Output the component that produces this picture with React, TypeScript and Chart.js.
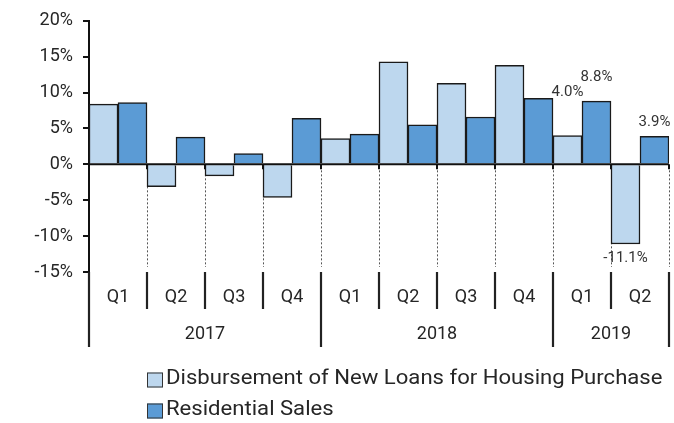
import React, { useEffect, useRef } from "react";
import { Chart, registerables } from "chart.js";

Chart.register(...registerables);

const quarterLabels = ["Q1", "Q2", "Q3", "Q4", "Q1", "Q2", "Q3", "Q4", "Q1", "Q2"];
const yearLabels = ["2017", "2018", "2019"];
const yearSpans = [4, 4, 2];
const loanGrowth = [8.4, -3.1, -1.6, -4.6, 3.6, 14.3, 11.3, 13.8, 4.0, -11.1];
const salesGrowth = [8.6, 3.8, 1.5, 6.4, 4.2, 5.5, 6.6, 9.2, 8.8, 3.9];
const seriesNames = ["Disbursement of New Loans for Housing Purchase", "Residential Sales"];
const labelledIndices = [8, 9];
const yMin = -15;
const yMax = 20;
const yStep = 5;

const COLORS = ["#BDD7EE", "#5B9BD5"];
const FONT = "Roboto";
const TEXT = "#262626";
// label vertical offset from the bar end, per dataset / index
const LABEL_DY: Record<number, Record<number, number>> = {
  0: { 8: -43, 9: 14 },
  1: { 8: -24, 9: -14 },
};

const customPlugin = {
  id: "customAxis",
  beforeDatasetsDraw(chart: any) {
    const { ctx, chartArea } = chart;
    const x = chart.scales.x;
    const y = chart.scales.y;
    const n = quarterLabels.length;
    const w = (chartArea.right - chartArea.left) / n;
    const zeroY = y.getPixelForValue(0);
    ctx.save();
    ctx.strokeStyle = "#555";
    ctx.lineWidth = 1;
    ctx.setLineDash([2, 2]);
    for (let i = 1; i <= n; i++) {
      const bx = Math.round(x.getPixelForValue(i - 1) + w / 2) + 0.5;
      ctx.beginPath();
      ctx.moveTo(bx, zeroY + 6);
      ctx.lineTo(bx, chartArea.bottom - 5);
      ctx.stroke();
    }
    ctx.restore();
  },
  afterDatasetsDraw(chart: any) {
    const { ctx, chartArea } = chart;
    const x = chart.scales.x;
    const y = chart.scales.y;
    const n = quarterLabels.length;
    const w = (chartArea.right - chartArea.left) / n;
    const zeroY = y.getPixelForValue(0);
    ctx.save();
    ctx.strokeStyle = "#111";
    ctx.lineWidth = 2;
    ctx.beginPath();
    ctx.moveTo(chartArea.left, zeroY);
    ctx.lineTo(chartArea.right, zeroY);
    ctx.stroke();
    for (let i = 1; i <= n; i++) {
      const bx = x.getPixelForValue(i - 1) + w / 2;
      ctx.beginPath();
      ctx.moveTo(bx, zeroY);
      ctx.lineTo(bx, zeroY + 5);
      ctx.stroke();
    }
    // data labels
    ctx.fillStyle = "#333";
    ctx.font = `15px ${FONT}`;
    ctx.textAlign = "center";
    ctx.textBaseline = "middle";
    chart.data.datasets.forEach((ds: any, di: number) => {
      const meta = chart.getDatasetMeta(di);
      labelledIndices.forEach((idx) => {
        const el = meta.data[idx];
        const v = ds.data[idx];
        const dy = LABEL_DY[di][idx];
        ctx.fillText(`${v.toFixed(1)}%`, el.x, el.y + dy);
      });
    });
    ctx.restore();
  },
  afterDraw(chart: any) {
    const { ctx, chartArea } = chart;
    const x = chart.scales.x;
    const n = quarterLabels.length;
    const w = (chartArea.right - chartArea.left) / n;
    const top = chartArea.bottom;
    ctx.save();
    ctx.strokeStyle = "#222";
    ctx.lineWidth = 2.2;
    // year boundaries
    const yearBounds = new Set<number>();
    let acc = 0;
    yearBounds.add(0);
    yearSpans.forEach((s) => {
      acc += s;
      yearBounds.add(acc);
    });
    for (let i = 0; i <= n; i++) {
      const bx = x.getPixelForValue(i) - w / 2;
      ctx.beginPath();
      ctx.moveTo(bx, top);
      ctx.lineTo(bx, yearBounds.has(i) ? top + 75 : top + 37);
      ctx.stroke();
    }
    ctx.fillStyle = TEXT;
    ctx.font = `18px ${FONT}`;
    ctx.textAlign = "center";
    ctx.textBaseline = "middle";
    quarterLabels.forEach((q, i) => {
      ctx.fillText(q, x.getPixelForValue(i), top + 25);
    });
    let start = 0;
    yearLabels.forEach((yr, j) => {
      const end = start + yearSpans[j];
      const cx = (x.getPixelForValue(start) + x.getPixelForValue(end - 1)) / 2;
      ctx.fillText(yr, cx, top + 62);
      start = end;
    });
    // legend
    ctx.font = `20px ${FONT}`;
    ctx.textAlign = "left";
    const stretch = 1.105;
    seriesNames.forEach((name, i) => {
      const cy = 380 + i * 31;
      ctx.fillStyle = COLORS[i];
      ctx.fillRect(147, cy - 7.5, 16, 15);
      ctx.strokeStyle = "#333";
      ctx.lineWidth = 1;
      ctx.strokeRect(147.5, cy - 7, 15, 14);
      ctx.fillStyle = TEXT;
      ctx.save();
      ctx.translate(166, cy - 1);
      ctx.scale(stretch, 1);
      ctx.fillText(name, 0, 0);
      ctx.restore();
    });
    ctx.restore();
  },
};

export default function App() {
  const ref = useRef<HTMLCanvasElement>(null);
  useEffect(() => {
    document.body.style.margin = "0";
    if (!ref.current) return;
    const chart = new Chart(ref.current, {
      type: "bar",
      data: {
        labels: quarterLabels,
        datasets: [
          {
            label: seriesNames[0],
            data: loanGrowth,
            backgroundColor: COLORS[0],
            borderColor: "#1a1a1a",
            borderWidth: 1.5,
            barPercentage: 1,
            categoryPercentage: 1,
          },
          {
            label: seriesNames[1],
            data: salesGrowth,
            backgroundColor: COLORS[1],
            borderColor: "#1a1a1a",
            borderWidth: 1.5,
            barPercentage: 1,
            categoryPercentage: 1,
          },
        ],
      },
      options: {
        responsive: false,
        animation: false,
        layout: { padding: { left: 0, top: 16, right: 5, bottom: 0 } },
        plugins: { legend: { display: false }, tooltip: { enabled: false } },
        scales: {
          x: {
            ticks: { display: false },
            grid: { display: false },
            border: { display: false },
            afterFit: (s: any) => {
              s.height = 151;
            },
          },
          y: {
            min: yMin,
            max: yMax,
            ticks: {
              stepSize: yStep,
              padding: 10,
              color: TEXT,
              font: { family: FONT, size: 18 },
              callback: (v: any) => `${v}%`,
            },
            grid: {
              drawOnChartArea: false,
              drawTicks: true,
              tickLength: 6,
              color: "#111",
              lineWidth: 2,
            },
            border: { display: true, color: "#111", width: 2 },
            afterFit: (s: any) => {
              s.width = 89;
            },
          },
        },
      },
      plugins: [customPlugin],
    });
    return () => chart.destroy();
  }, []);
  return <canvas ref={ref} width={674} height={423} style={{ display: "block" }} />;
}
